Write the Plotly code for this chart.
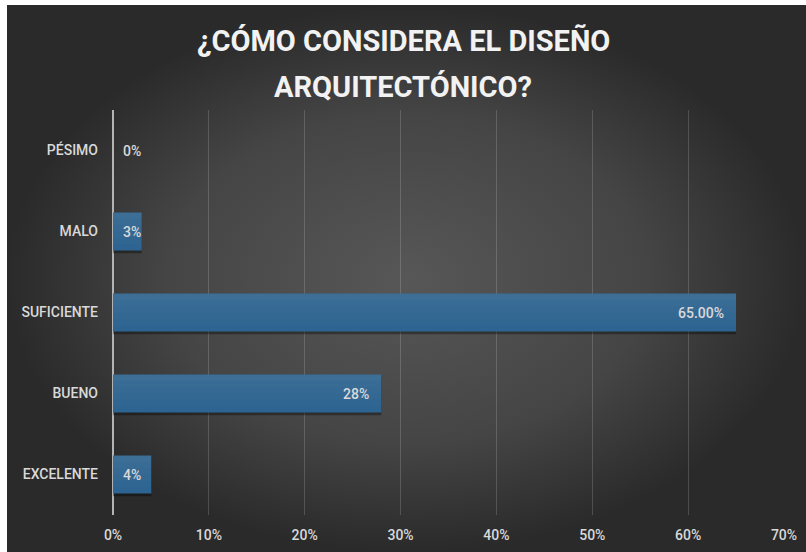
import plotly.graph_objects as go

# Survey answers, top to bottom
categories = ["PÉSIMO", "MALO", "SUFICIENTE", "BUENO", "EXCELENTE"]
shares = [0, 3, 65, 28, 4]
value_labels = ["0%", "3%", "65.00%", "28%", "4%"]
x_ticks = [0, 10, 20, 30, 40, 50, 60, 70]
x_tick_labels = ["0%", "10%", "20%", "30%", "40%", "50%", "60%", "70%"]
title_lines = ["¿CÓMO CONSIDERA EL DISEÑO", "ARQUITECTÓNICO?"]

W, H = 806, 552
TEXT = "#d9d9d9"
BAR = "#2d6491"
BAR_W = 0.47

fig = go.Figure()

# dark radial backdrop behind the whole chart (thin white frame on top/left)
fig.add_trace(go.Scatter(
    x=[7 / W, 1, 1, 7 / W, 7 / W],
    y=[0, 0, 1 - 5 / H, 1 - 5 / H, 0],
    mode="lines", fill="toself", line=dict(width=0),
    fillgradient=dict(type="radial",
                      colorscale=[[0, "#575757"], [0.6, "#454545"], [1, "#2a2a2a"]]),
    hoverinfo="skip", showlegend=False, xaxis="x", yaxis="y",
))

# soft shadow under each bar
fig.add_trace(go.Bar(
    y=categories, x=shares, orientation="h",
    marker=dict(color="rgba(0,0,0,0.35)", line=dict(width=0)),
    width=BAR_W, offset=-BAR_W / 2 + 0.035, xaxis="x2", yaxis="y2",
    hoverinfo="skip", showlegend=False,
))

# main bars
fig.add_trace(go.Bar(
    y=categories, x=shares, orientation="h",
    marker=dict(color=BAR, line=dict(width=0)),
    width=BAR_W, offset=-BAR_W / 2, xaxis="x2", yaxis="y2",
    hoverinfo="x+y", showlegend=False,
))

# gentle top-to-bottom sheen built from stacked translucent strips
n_strips = 6
for k in range(1, n_strips):
    frac = k / n_strips
    fig.add_trace(go.Bar(
        y=categories, x=shares, orientation="h",
        marker=dict(color="rgba(255,255,255,0.015)", line=dict(width=0)),
        width=BAR_W * frac, offset=-BAR_W / 2, xaxis="x2", yaxis="y2",
        hoverinfo="skip", showlegend=False,
    ))

label_font = dict(family="Roboto", size=14, color=TEXT, weight=500)
annotations = []
for cat, val, lab in zip(categories, shares, value_labels):
    if val >= 10:
        annotations.append(dict(x=val, y=cat, xref="x2", yref="y2", text=lab,
                                xanchor="right", xshift=-10, showarrow=False,
                                font=label_font))
    else:
        annotations.append(dict(x=0, y=cat, xref="x2", yref="y2", text=lab,
                                xanchor="left", xshift=8, showarrow=False,
                                font=label_font))

for i, line in enumerate(title_lines):
    annotations.append(dict(x=0.5, y=1 - (41 + 46 * i) / H, xref="paper", yref="paper",
                            text=f"<b>{line}</b>", showarrow=False,
                            xanchor="center", yanchor="middle",
                            font=dict(family="Roboto", size=29, color="#f2f2f2")))

fig.update_layout(
    template="none",
    width=W, height=H, autosize=False,
    margin=dict(l=0, r=0, t=0, b=0, pad=0),
    paper_bgcolor="#ffffff",
    plot_bgcolor="rgba(0,0,0,0)",
    barmode="overlay",
    xaxis=dict(domain=[0, 1], range=[0, 1], visible=False, fixedrange=True,
               automargin=False),
    yaxis=dict(domain=[0, 1], range=[0, 1], visible=False, fixedrange=True,
               automargin=False),
    xaxis2=dict(domain=[113 / W, 784 / W], range=[0, 70], anchor="y2",
                automargin=False,
                tickvals=x_ticks, ticktext=x_tick_labels,
                showgrid=True, gridcolor="rgba(255,255,255,0.16)", gridwidth=1,
                zeroline=True, zerolinecolor="#b4b4b4", zerolinewidth=1.5,
                showline=False, ticks="", ticklabelstandoff=10,
                tickfont=dict(family="Roboto", size=14, color=TEXT, weight=500)),
    yaxis2=dict(domain=[1 - 515 / H, 1 - 110 / H], anchor="x2",
                automargin=False,
                categoryorder="array", categoryarray=categories,
                autorange="reversed", showgrid=False, zeroline=False,
                showline=False, ticks="", ticklabelstandoff=14,
                tickfont=dict(family="Roboto", size=14, color=TEXT, weight=500)),
    annotations=annotations,
)

fig.write_html("out.html")
